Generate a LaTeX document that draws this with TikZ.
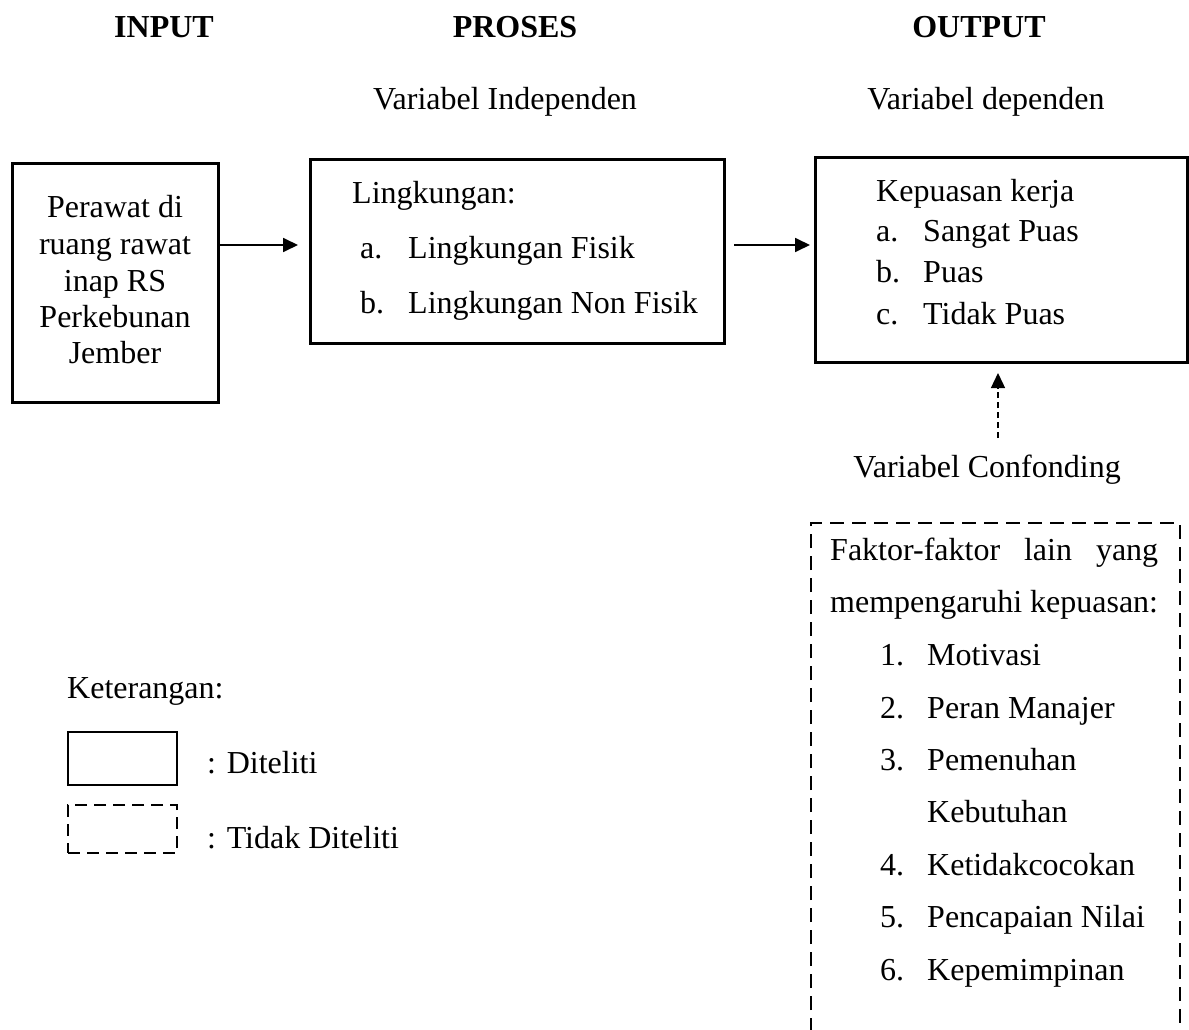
\documentclass[tikz,border=0pt]{standalone}
\usepackage{fontspec}
\setmainfont{Liberation Serif}
\usetikzlibrary{arrows.meta}
\begin{document}
\begin{tikzpicture}[x=1pt,y=-1pt,
  txt/.style={inner sep=0pt,anchor=base west,font=\fontsize{32}{38}\selectfont},
  ctxt/.style={inner sep=0pt,anchor=base,font=\fontsize{32}{38}\selectfont},
  hdr/.style={inner sep=0pt,anchor=base,font=\fontsize{32}{38}\selectfont\bfseries},
  mainbox/.style={draw,line width=3pt,inner sep=0pt},
  arr/.style={line width=1.8pt,-{Triangle[length=15pt,width=14pt]}},
  dasharr/.style={line width=1.3pt,dash pattern=on 6pt off 4pt,-{Triangle[length=15pt,width=14pt]}},
  legbox/.style={draw,line width=2pt,inner sep=0pt}
]
\useasboundingbox (0,0) rectangle (1189,1030);

% headers
\node[hdr] (hin) at (164,38) {INPUT};
\node[hdr] (hpr) at (515,38) {PROSES};
\node[hdr] (hout) at (979,38) {OUTPUT};
\node[ctxt] (vind) at (505,110) {Variabel Independen};
\node[ctxt] (vdep) at (986,110) {Variabel dependen};

% box 1
\node[mainbox,minimum width=206pt,minimum height=238pt] (b1) at (115,283) {};
\node[ctxt] (b1a) at (115,217) {Perawat di};
\node[ctxt] (b1b) at (115,254) {ruang rawat};
\node[ctxt] (b1c) at (115,291) {inap RS};
\node[ctxt] (b1d) at (115,327) {Perkebunan};
\node[ctxt] (b1e) at (115,363) {Jember};

% box 2
\node[mainbox,minimum width=414pt,minimum height=183pt] (b2) at (517.5,251.5) {};
\node[txt] (b2t) at (352,203) {Lingkungan:};
\node[txt] (b2a) at (360,258) {a.};
\node[txt] (b2at) at (408,258) {Lingkungan Fisik};
\node[txt] (b2b) at (360,313) {b.};
\node[txt] (b2bt) at (408,313) {Lingkungan Non Fisik};

% box 3
\node[mainbox,minimum width=372pt,minimum height=204pt] (b3) at (1001.5,260) {};
\node[txt] (b3t) at (876,201) {Kepuasan kerja};
\node[txt] (b3a) at (876,241) {a.};
\node[txt] (b3at) at (923,241) {Sangat Puas};
\node[txt] (b3b) at (876,282) {b.};
\node[txt] (b3bt) at (923,282) {Puas};
\node[txt] (b3c) at (876,324) {c.};
\node[txt] (b3ct) at (923,324) {Tidak Puas};

% arrows
\coordinate (a1s) at (218,245);
\coordinate (a1e) at (298,245);
\draw[arr] (b1.east |- a1s) -- (a1e);
\coordinate (a2s) at (734,245);
\coordinate (a2e) at (810,245);
\draw[arr] (a2s) -- (a2e);

% confounding
\node[ctxt] (conf) at (987,477) {Variabel Confonding};
\coordinate (c1) at (998,438);
\coordinate (c2) at (998,373);
\draw[dasharr] (c1) -- (c2);

\draw[line width=1.8pt,dash pattern=on 14pt off 8pt] (811,1032) -- (811,523) -- (1180,523) -- (1180,1032);
\node[txt] (f1) at (830,560) {\makebox[328pt][s]{Faktor-faktor\hfill lain\hfill yang}};
\node[txt] (f2) at (830,612) {mempengaruhi kepuasan:};
\foreach \n/\t/\y [count=\i] in {1./Motivasi/665, 2./Peran Manajer/718, 3./Pemenuhan/770, 4./Ketidakcocokan/875, 5./Pencapaian Nilai/927, 6./Kepemimpinan/980}{
  \node[txt] (fn\i) at (880,\y) {\n};
  \node[txt] (ft\i) at (927,\y) {\t};
}
\node[txt] (ft3b) at (927,822) {Kebutuhan};

% legend
\node[txt] (ket) at (67,698) {Keterangan:};
\node[legbox,minimum width=109pt,minimum height=53pt] (lg1) at (122.5,758.5) {};
\node[txt] (lg1t) at (207,773) {: Diteliti};
\node[legbox,dash pattern=on 12pt off 7pt,minimum width=109pt,minimum height=48pt] (lg2) at (122.5,829) {};
\node[txt] (lg2t) at (207,848) {: Tidak Diteliti};
\end{tikzpicture}
\end{document}
